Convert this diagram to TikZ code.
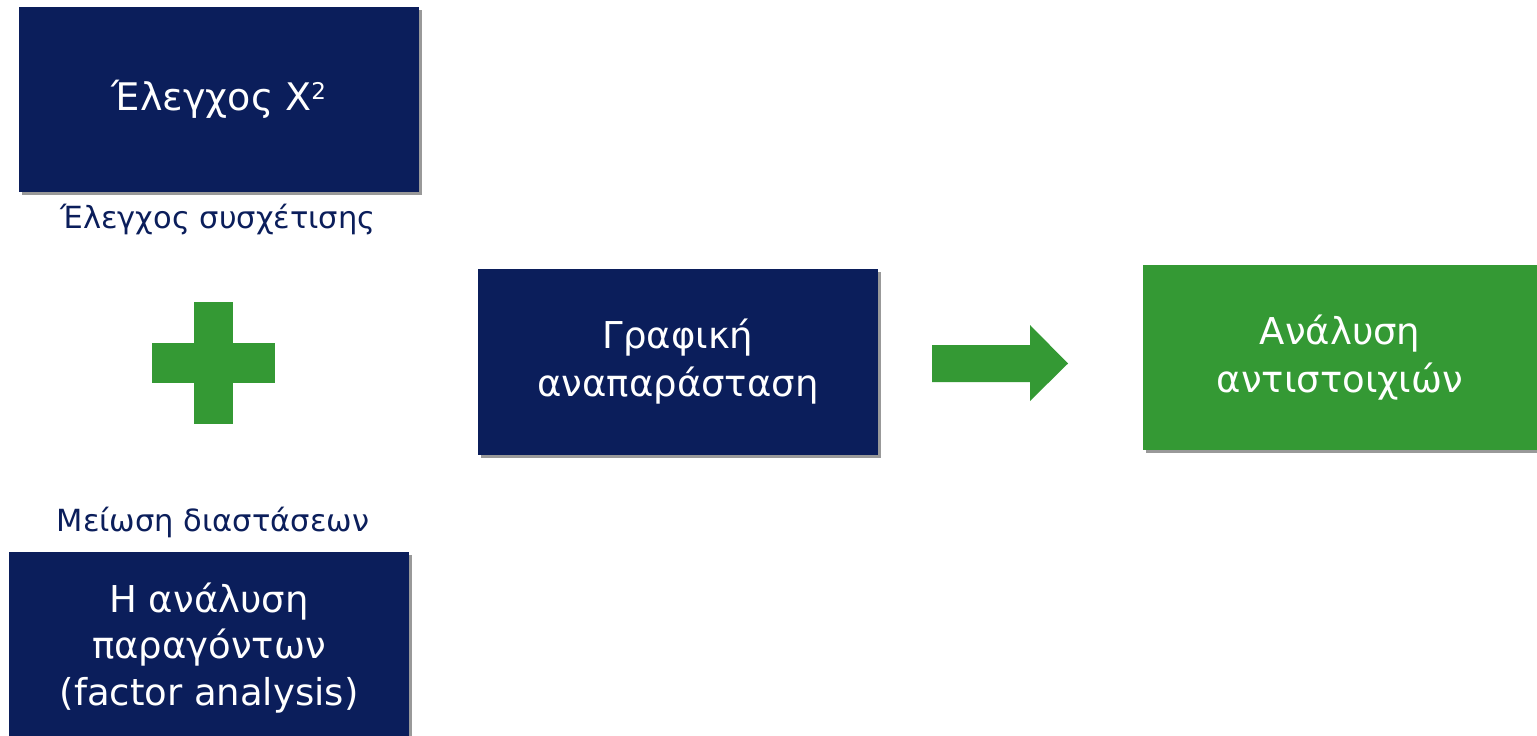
\documentclass[tikz,border=0pt]{standalone}
\usepackage{fontspec}
\setmainfont{DejaVu Sans}
\usetikzlibrary{shadows}
\definecolor{navy}{HTML}{0B1E5B}
\definecolor{pgreen}{HTML}{349934}
\tikzset{
  box/.style={draw=none, inner sep=0pt, align=center, text=white,
    font=\fontsize{37}{48}\selectfont,
    drop shadow={shadow xshift=3pt, shadow yshift=-3pt, fill=black!40, opacity=1}},
  navybox/.style={box, fill=navy},
  greenbox/.style={box, fill=pgreen},
  lbl/.style={text=navy, inner sep=0pt, font=\fontsize{30.5}{34}\selectfont},
  gshape/.style={fill=pgreen, draw=none}
}
\begin{document}
\begin{tikzpicture}[x=1pt,y=-1pt]
\useasboundingbox[fill=white] (0,0) rectangle (1537,736);
% boxes
\node[navybox, minimum width=400pt, minimum height=185pt] (chi) at (219,99.5)
  {\fontsize{38}{48}\selectfont Έλεγχος Χ\raisebox{0.55ex}{\fontsize{23}{23}\selectfont 2}};
\node[lbl] (corr) at (218,220) {Έλεγχος συσχέτισης};
\node[navybox, minimum width=400pt, minimum height=186pt] (graph) at (678,362)
  {Γραφική\\αναπαράσταση};
\node[greenbox, minimum width=394pt, minimum height=185pt] (ca) at (1340,357.5)
  {Ανάλυση\\αντιστοιχιών};
\node[lbl] (dim) at (213,522) {Μείωση διαστάσεων};
\node[navybox, minimum width=400pt, minimum height=192pt,
  font=\fontsize{37}{46.5}\selectfont] (fa) at (209,648)
  {Η ανάλυση\\παραγόντων\\(factor analysis)};
% plus sign
\coordinate (plus) at (213.5,363);
\fill[gshape] (194,302) rectangle (233,424);
\fill[gshape] (152,343) rectangle (275,383);
% block arrow
\coordinate (arr) at (1000,363);
\fill[gshape] (932,345) -- (1030,345) -- (1030,325) -- (1068,363.5) -- (1030,401)
  -- (1030,382) -- (932,382) -- cycle;
\end{tikzpicture}
\end{document}
